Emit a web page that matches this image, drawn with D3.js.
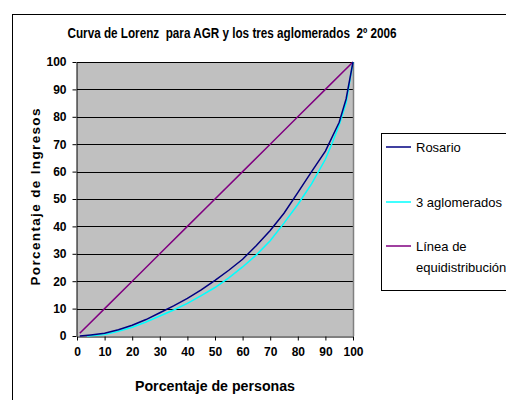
<!DOCTYPE html>
<html><head><meta charset="utf-8">
<script src="https://cdn.jsdelivr.net/npm/d3@7"></script>
<style>body{margin:0;background:#fff}svg{display:block}text{font-family:"Liberation Sans",Arial,sans-serif;white-space:pre}</style>
</head><body>
<svg id="c" width="506" height="400"></svg>
<script>
const title = "Curva de Lorenz  para AGR y los tres aglomerados  2º 2006";
const xTitle = "Porcentaje de personas";
const yTitle = "Porcentaje de Ingresos";
const ticks = [0,10,20,30,40,50,60,70,80,90,100];

const rosarioX = [1,5,10,15,20,25,30,35,40,45,50,55,60,65,70,75,80,85,90,95,97.5,100];
const rosarioY = [0,0.4,1.0,2.3,3.9,6.0,8.5,11,13.7,16.8,20.3,24,28,33,38.5,44.8,52.3,60,67.5,78,86.5,100];

const aglomX = [3.6,5,10,15,20,25,30,35,40,45,50,55,60,65,70,75,80,85,90,92.5,95,97.5,99.5,100];
const aglomY = [0,0.1,0.5,1.7,3.2,5.1,7.3,9.5,11.9,14.7,17.7,21.2,25.2,29.6,34.8,41.2,48,55.5,64.5,70.5,77,85,97,100];

const equiX = [1,10,20,30,40,50,60,70,80,90,100];
const equiY = [1,10,20,30,40,50,60,70,80,90,100];

const series = [
  {name:"Rosario", x:rosarioX, y:rosarioY, color:"#000080"},
  {name:"3 aglomerados", x:aglomX, y:aglomY, color:"#00ffff"},
  {name:"Línea de\nequidistribución", x:equiX, y:equiY, color:"#800080"}
];

const svg = d3.select("#c");
const L=77, R=353, T=62, B=336;
const x = d3.scaleLinear().domain([0,100]).range([L,R]);
const y = d3.scaleLinear().domain([0,100]).range([B,T]);

// outer frame
svg.append("rect").attr("x",12.5).attr("y",14.5).attr("width",520).attr("height",420)
  .attr("fill","none").attr("stroke","#000").attr("stroke-width",1);

// plot area
svg.append("rect").attr("x",L).attr("y",T).attr("width",R-L).attr("height",B-T).attr("fill","#c0c0c0");
svg.append("g").selectAll("line").data(ticks.slice(1)).join("line")
  .attr("x1",L).attr("x2",R).attr("y1",d=>Math.round(y(d))+0.5).attr("y2",d=>Math.round(y(d))+0.5)
  .attr("stroke","#000").attr("stroke-width",1);
svg.append("line").attr("x1",R+0.5).attr("x2",R+0.5).attr("y1",T).attr("y2",B)
  .attr("stroke","#808080").attr("stroke-width",1.5);

// axes
const xa = svg.append("g").attr("transform",`translate(0,${B+0.5})`)
  .call(d3.axisBottom(x).tickValues(ticks).tickSize(4).tickSizeOuter(0).tickPadding(7));
const ya = svg.append("g").attr("transform",`translate(${L-0.5},0)`)
  .call(d3.axisLeft(y).tickValues(ticks).tickSize(4).tickSizeOuter(0).tickPadding(6));
[xa,ya].forEach(g=>{
  g.select(".domain").attr("stroke","#000");
  g.selectAll(".tick line").attr("stroke","#000");
  g.selectAll("text").attr("font-size",12).attr("font-weight","bold").attr("fill","#000")
    .attr("font-family",'"Liberation Sans",Arial,sans-serif');
});

// lines
const line = d3.line().x(d=>x(d[0])).y(d=>y(d[1]));
const drawOrder = [2,1,0];
drawOrder.forEach(i=>{
  const s = series[i];
  svg.append("path").datum(s.x.map((v,k)=>[v,s.y[k]]))
    .attr("d",line).attr("fill","none").attr("stroke",s.color).attr("stroke-width",1.5);
});

// titles
svg.append("text").attr("x",232).attr("y",38).attr("text-anchor","middle")
  .attr("font-size",14).attr("font-weight","bold").attr("textLength",329).attr("lengthAdjust","spacingAndGlyphs")
  .text(title);
svg.append("text").attr("x",215).attr("y",391).attr("text-anchor","middle")
  .attr("font-size",14).attr("font-weight","bold").attr("textLength",160).attr("lengthAdjust","spacingAndGlyphs")
  .text(xTitle);
svg.append("text").attr("transform","translate(40,197) rotate(-90)").attr("text-anchor","middle")
  .attr("font-size",13.5).attr("font-weight","bold").attr("textLength",177).attr("lengthAdjust","spacing")
  .text(yTitle);

// legend
svg.append("rect").attr("x",381.5).attr("y",133.5).attr("width",140).attr("height",157)
  .attr("fill","#fff").attr("stroke","#000").attr("stroke-width",1);
const legY = [147,202,246];
series.forEach((s,i)=>{
  svg.append("line").attr("x1",386).attr("x2",411).attr("y1",legY[i]).attr("y2",legY[i])
    .attr("stroke",s.color).attr("stroke-width",1.5);
  const t = svg.append("text").attr("x",416).attr("y",legY[i]+4.5).attr("font-size",13).attr("fill","#000");
  s.name.split("\n").forEach((ln,j)=>{
    t.append("tspan").attr("x",416).attr("dy",j?21:0).text(ln);
  });
});
</script>
</body></html>
